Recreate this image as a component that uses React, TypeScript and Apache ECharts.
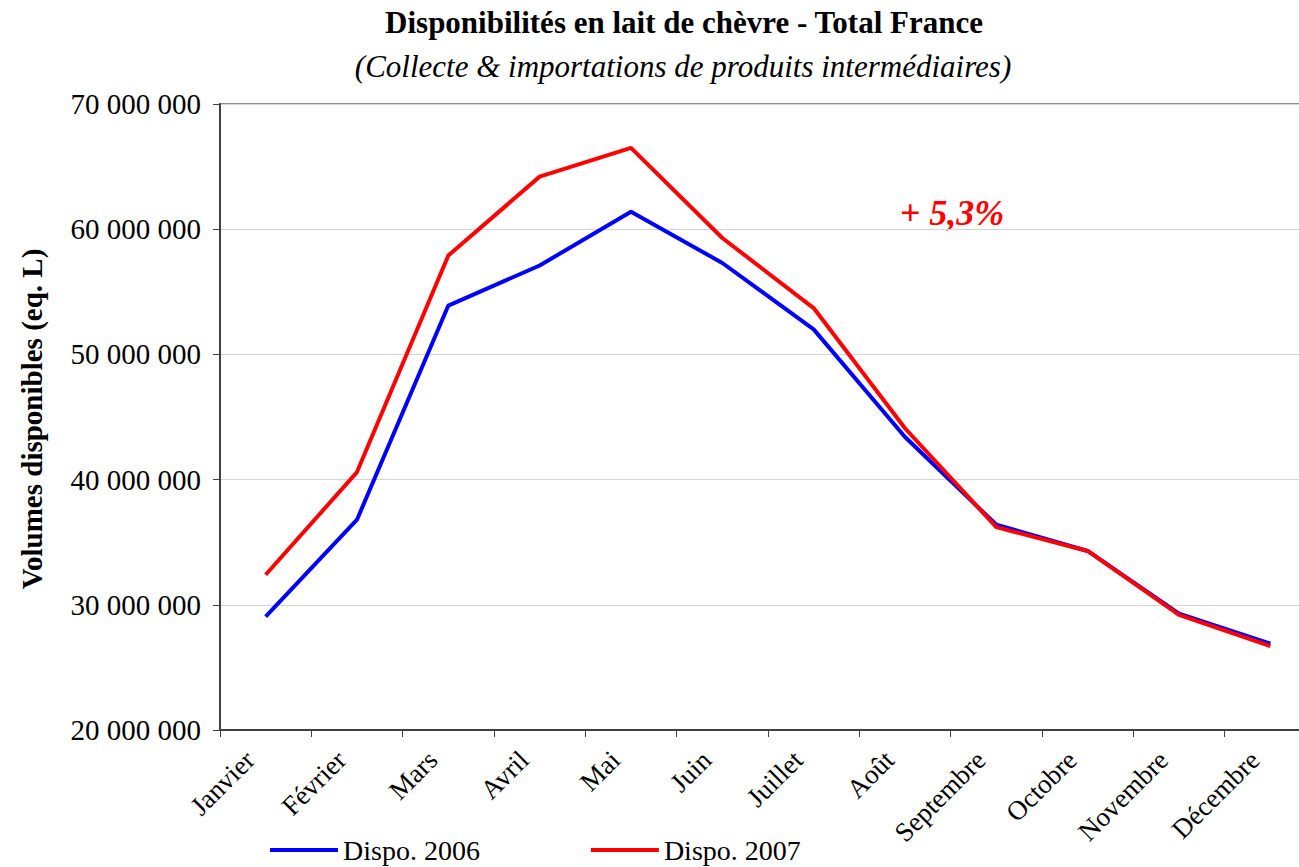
import React, { useEffect, useRef } from "react";
import * as echarts from "echarts";

const months = [
  "Janvier", "Février", "Mars", "Avril", "Mai", "Juin",
  "Juillet", "Août", "Septembre", "Octobre", "Novembre", "Décembre",
];
const dispo2006 = [
  29050000, 36800000, 53900000, 57100000, 61400000, 57300000,
  52000000, 43400000, 36400000, 34300000, 29300000, 26900000,
];
const dispo2007 = [
  32400000, 40600000, 57900000, 64200000, 66500000, 59300000,
  53700000, 44100000, 36200000, 34300000, 29200000, 26700000,
];
const yMin = 20000000;
const yMax = 70000000;
const yStep = 10000000;

const FONT = '"Liberation Serif", "Times New Roman", serif';

function fmt(v: number): string {
  return String(Math.round(v)).replace(/\B(?=(\d{3})+(?!\d))/g, " ");
}

export default function App() {
  const ref = useRef<HTMLDivElement>(null);
  useEffect(() => {
    document.body.style.margin = "0";
    document.body.style.overflow = "hidden";
    const chart = echarts.init(ref.current!, null, { renderer: "svg" });
    chart.setOption({
      animation: false,
      backgroundColor: "#ffffff",
      textStyle: { fontFamily: FONT },
      grid: {
        left: 220,
        top: 104,
        width: 1096,
        height: 626,
        show: true,
        borderColor: "#8c8c8c",
        borderWidth: 2,
        containLabel: false,
      },
      legend: {
        left: 265,
        top: 831,
        icon: "rect",
        itemWidth: 68,
        itemHeight: 4,
        itemGap: 111,
        textStyle: { fontFamily: FONT, fontSize: 28, color: "#000" },
        data: ["Dispo. 2006", "Dispo. 2007"],
      },
      xAxis: {
        type: "category",
        data: months,
        boundaryGap: true,
        axisLine: { lineStyle: { color: "#404040", width: 2 } },
        axisTick: { show: true, length: 7, lineStyle: { color: "#404040", width: 1 } },
        axisLabel: {
          interval: 0,
          rotate: 45,
          margin: 10,
          padding: [0, 22, 0, 0],
          fontSize: 27,
          fontFamily: FONT,
          color: "#000",
        },
        splitLine: { show: false },
      },
      yAxis: {
        type: "value",
        min: yMin,
        max: yMax,
        interval: yStep,
        axisLine: { show: true, lineStyle: { color: "#404040", width: 2 } },
        axisTick: { show: true, length: 7, lineStyle: { color: "#404040", width: 1 } },
        axisLabel: {
          margin: 19,
          fontSize: 29,
          fontFamily: FONT,
          color: "#000",
          formatter: (v: number) => fmt(v),
        },
        splitLine: { show: true, lineStyle: { color: "#d4d4d4", width: 1 } },
      },
      series: [
        {
          name: "Dispo. 2006",
          type: "line",
          data: dispo2006,
          symbol: "none",
          color: "#0000ff",
          lineStyle: { color: "#0000ff", width: 4 },
          z: 2,
        },
        {
          name: "Dispo. 2007",
          type: "line",
          data: dispo2007,
          symbol: "none",
          color: "#ff0000",
          lineStyle: { color: "#ff0000", width: 4 },
          z: 3,
        },
      ],
      graphic: [
        {
          type: "text",
          x: 684,
          y: 22,
          style: {
            text: "Disponibilités en lait de chèvre - Total France",
            fontFamily: FONT,
            fontSize: 31,
            fontWeight: "bold",
            fill: "#000",
            align: "center",
            verticalAlign: "middle",
          },
        },
        {
          type: "text",
          x: 683,
          y: 66,
          style: {
            text: "(Collecte & importations de produits intermédiaires)",
            fontFamily: FONT,
            fontSize: 31,
            fontStyle: "italic",
            fill: "#000",
            align: "center",
            verticalAlign: "middle",
          },
        },
        {
          type: "text",
          x: 32,
          y: 419,
          rotation: Math.PI / 2,
          style: {
            text: "Volumes disponibles (eq. L)",
            fontFamily: FONT,
            fontSize: 29,
            fontWeight: "bold",
            fill: "#000",
            align: "center",
            verticalAlign: "middle",
          },
        },
        {
          type: "text",
          x: 952,
          y: 213,
          style: {
            text: "+ 5,3%",
            fontFamily: FONT,
            fontSize: 36,
            fontWeight: "bold",
            fontStyle: "italic",
            fill: "#ff0000",
            align: "center",
            verticalAlign: "middle",
          },
        },
      ],
    });
    return () => chart.dispose();
  }, []);
  return (
    <div
      ref={ref}
      style={{ position: "fixed", left: 0, top: 0, width: 1320, height: 867 }}
    />
  );
}
